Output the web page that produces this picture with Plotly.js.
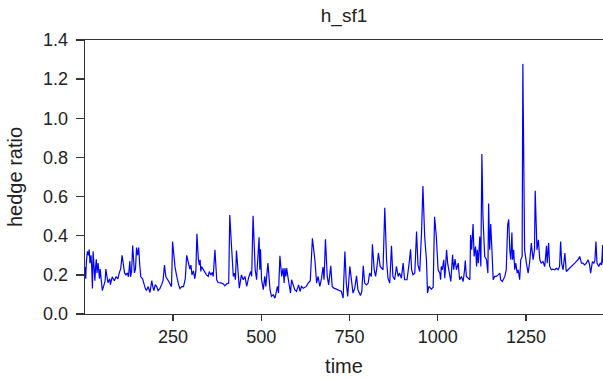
<!DOCTYPE html>
<html>
<head>
<meta charset="utf-8">
<script src="https://cdn.plot.ly/plotly-3.0.1.min.js"></script>
<style>html,body{margin:0;padding:0;background:#fff;}#chart{width:603px;height:382px;}</style>
</head>
<body>
<div id="chart"></div>
<script>
const chartTitle = "h_sf1";
const xTitle = "time";
const yTitle = "hedge ratio";
const xTickVals = [250, 500, 750, 1000, 1250];
const yTickVals = [0, 0.2, 0.4, 0.6, 0.8, 1.0, 1.2, 1.4];

const time = [
1,3,5,8,11,13,15,18,20,22,24,26,29,31,33,35,38,40,42,44,47,50,55,58,60,63,66,71,73,78,84,89,94,98,102,106,110,113,117,121,124,128,130,133,136,141,144,147,150,153,156,159,164,168,172,175,180,185,190,193,196,200,204,208,213,218,222,226,230,237,242,246,249,253,256,260,263,266,270,275,280,285,289,292,295,298,301,304,308,312,315,318,322,325,
327,329,331,336,341,345,350,353,357,361,364,369,374,378,388,393,397,402,408,411,416,421,424,427,430,435,438,444,449,454,459,464,470,473,477,483,487,489,494,496,498,501,506,510,513,519,525,529,534,539,544,546,549,553,558,562,565,567,570,572,577,583,586,591,595,600,606,610,614,619,628,633,639,645,649,652,657,661,666,671,675,
678,682,687,691,697,701,706,713,721,727,732,737,741,745,751,756,760,765,770,774,781,785,789,793,798,803,807,812,815,820,824,828,832,837,840,845,850,855,859,864,869,873,878,883,888,892,897,902,906,913,919,923,926,930,935,940,944,949,954,958,963,968,971,975,982,987,991,996,1001,
1006,1008,1010,1013,1017,1020,1025,1028,1032,1037,1042,1045,1049,1053,1058,1062,1067,1072,1076,1078,1081,1086,1091,1093,1096,1100,1103,1107,1110,1112,1115,1119,1122,1125,1128,1133,1138,1142,1144,1147,1150,1153,1157,1161,1166,1171,1176,1178,1183,1190,1194,1198,1201,1204,1207,1210,1212,1215,1218,1221,1225,1228,1232,1235,1239,1241,1243,1246,1251,1256,1260,1265,1270,1274,1276,1281,1285,1289,1293,1298,1303,1308,1310,1314,1317,1322,1326,1331,1336,1341,1345,1348,1351,1355,1360,1364,1369,1374,1378,1383,1388,1392,1397,1402,1407,1411,1416,1421,1426,1430,1433,1438,1442,1445,1448,1451,1456,1460,1464,1467,1468
];
const hedgeRatio = [
0.24,0.18,0.27,0.32,0.30,0.33,0.26,0.30,0.24,0.13,0.32,0.27,0.17,0.24,0.28,0.21,0.26,0.22,0.18,0.23,0.16,0.12,0.15,0.17,0.23,0.18,0.16,0.18,0.15,0.19,0.17,0.19,0.18,0.21,0.23,0.30,0.23,0.21,0.20,0.21,0.19,0.27,0.19,0.22,0.35,0.21,0.23,0.34,0.30,0.34,0.25,0.19,0.18,0.15,0.13,0.12,0.14,0.11,0.17,0.14,0.12,0.15,0.14,0.12,0.13,0.15,0.17,0.25,0.19,0.17,0.15,0.14,0.37,0.28,0.24,0.20,0.17,0.15,0.13,0.14,0.14,0.18,0.30,0.27,0.24,0.23,0.25,0.20,0.22,0.18,0.22,0.41,0.28,0.25,
0.277,0.217,0.242,0.226,0.209,0.200,0.192,0.217,0.200,0.212,0.192,0.328,0.175,0.161,0.158,0.154,0.144,0.154,0.158,0.506,0.344,0.192,0.209,0.175,0.324,0.175,0.132,0.200,0.175,0.192,0.141,0.183,0.217,0.192,0.502,0.226,0.175,0.242,0.392,0.226,0.331,0.175,0.124,0.192,0.141,0.260,0.124,0.090,0.098,0.081,0.124,0.141,0.107,0.297,0.192,0.234,0.158,0.234,0.192,0.234,0.175,0.107,0.175,0.141,0.124,0.115,0.149,0.115,0.141,0.132,0.141,0.158,0.170,0.387,0.336,0.277,0.158,0.192,0.141,0.183,0.240,
0.175,0.382,0.192,0.149,0.246,0.141,0.132,0.127,0.120,0.115,0.081,0.319,0.158,0.090,0.243,0.158,0.107,0.132,0.195,0.124,0.094,0.115,0.246,0.158,0.149,0.158,0.209,0.192,0.356,0.226,0.192,0.243,0.312,0.243,0.234,0.226,0.543,0.277,0.183,0.158,0.348,0.192,0.175,0.243,0.192,0.209,0.183,0.260,0.175,0.175,0.260,0.331,0.226,0.200,0.209,0.421,0.251,0.217,0.412,0.654,0.395,0.277,0.107,0.141,0.127,0.137,0.497,0.395,0.226,
0.209,0.175,0.243,0.226,0.277,0.183,0.328,0.260,0.226,0.166,0.302,0.226,0.280,0.226,0.260,0.175,0.192,0.166,0.226,0.273,0.192,0.183,0.175,0.404,0.328,0.460,0.294,0.345,0.243,0.328,0.260,0.396,0.243,0.817,0.497,0.294,0.277,0.209,0.565,0.328,0.460,0.345,0.175,0.192,0.192,0.200,0.209,0.175,0.166,0.192,0.226,0.455,0.483,0.328,0.277,0.416,0.277,0.328,0.226,0.260,0.209,0.226,0.175,0.277,0.294,1.278,0.700,0.328,0.260,0.209,0.260,0.362,0.277,0.328,0.630,0.328,0.379,0.277,0.260,0.268,0.243,0.348,0.260,0.362,0.243,0.226,0.229,0.226,0.234,0.226,0.243,0.370,0.260,0.226,0.311,0.217,0.226,0.234,0.243,0.251,0.260,0.268,0.277,0.294,0.260,0.260,0.251,0.260,0.277,0.251,0.209,0.268,0.260,0.273,0.370,0.260,0.243,0.260,0.251,0.353,0.260
];

const trace = {
  x: time, y: hedgeRatio, type: 'scatter', mode: 'lines',
  line: {color: '#0000FF', width: 1.2}, hoverinfo: 'skip'
};

const fontFam = '"Liberation Sans", Arial, sans-serif';
const layout = {
  width: 603, height: 382,
  margin: {l: 85, r: 0, t: 40, b: 68, pad: 0},
  paper_bgcolor: '#ffffff', plot_bgcolor: '#ffffff',
  showlegend: false,
  font: {family: fontFam, color: '#222222', size: 18},
  title: {text: chartTitle, x: 0.5, xref: 'paper', xanchor: 'center', y: 0.96, yref: 'container', yanchor: 'middle', font: {size: 19, family: fontFam, color: '#222222'}},
  xaxis: {
    range: [1, 1468], showgrid: false, zeroline: false,
    showline: true, linecolor: '#333333', linewidth: 1.3, mirror: true,
    ticks: 'outside', ticklen: 6, tickwidth: 1.3, tickcolor: '#333333',
    tickvals: xTickVals, ticktext: xTickVals.map(String),
    tickfont: {size: 18, family: fontFam, color: '#222222'},
    title: {text: xTitle, standoff: 13, font: {size: 20, family: fontFam, color: '#222222'}}
  },
  yaxis: {
    range: [0, 1.4], showgrid: false, zeroline: false,
    showline: true, linecolor: '#333333', linewidth: 1.3,
    ticks: 'outside', ticklen: 8, tickwidth: 1.3, tickcolor: '#333333',
    tickvals: yTickVals, tickformat: '.1f', ticklabelstandoff: 4,
    tickfont: {size: 18, family: fontFam, color: '#222222'},
    title: {text: yTitle, standoff: 15, font: {size: 20, family: fontFam, color: '#222222'}}
  }
};

Plotly.newPlot('chart', [trace], layout, {displayModeBar: false, staticPlot: true});
</script>
</body>
</html>
